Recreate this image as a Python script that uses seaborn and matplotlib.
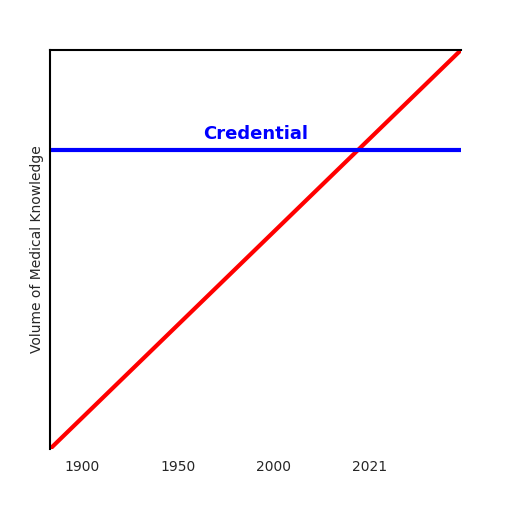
import matplotlib
matplotlib.use("Agg")
import matplotlib.pyplot as plt
import seaborn as sns
import pandas as pd

sns.set_style("white")
plt.rcParams['font.family'] = ['DejaVu Sans']

tick_labels = ["1900", "1950", "2000", "2021"]
tick_pos = [0, 1, 2, 3]
knowledge_x = [-0.333, 3.95]
knowledge_y = [0.0, 1.0]
credential_x = [-0.333, 3.95]
credential_y = [0.75, 0.75]

fig = plt.figure(figsize=(5.12, 5.12), dpi=100)
ax = fig.add_axes([50/512, 63/512, 411/512, 399/512])
sns.lineplot(x=knowledge_x, y=knowledge_y, color="red", linewidth=3, ax=ax)
sns.lineplot(x=credential_x, y=credential_y, color="blue", linewidth=3, ax=ax)
ax.text(0.5, 0.79, "Credential", color="blue", fontweight="bold", fontsize=13,
        ha="center", va="center", transform=ax.transAxes)
ax.set_xlim(-0.333, 3.95)
ax.set_ylim(0, 1)
ax.set_xticks(tick_pos)
ax.set_xticklabels(tick_labels, fontsize=10)
ax.set_yticks([])
ax.tick_params(axis="x", length=0, pad=8)
ax.set_ylabel("Volume of Medical Knowledge", fontsize=10)
for s in ["right", "bottom"]:
    ax.spines[s].set_visible(False)
for s in ["left", "top"]:
    ax.spines[s].set_color("black")
    ax.spines[s].set_linewidth(1.5)
fig.savefig("out.png", dpi=100)
